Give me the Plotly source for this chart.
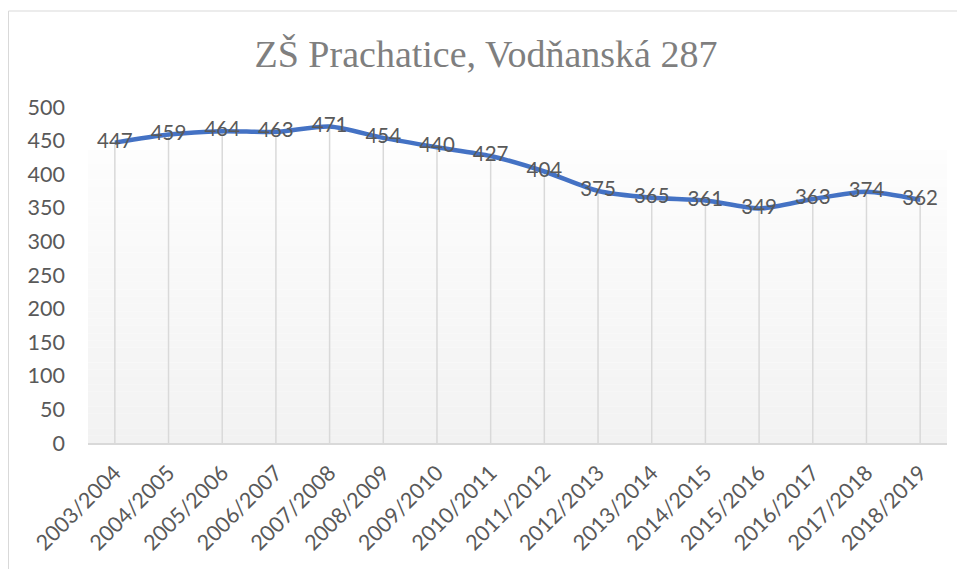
import plotly.graph_objects as go

# Data
skolni_roky = ["2003/2004", "2004/2005", "2005/2006", "2006/2007", "2007/2008",
               "2008/2009", "2009/2010", "2010/2011", "2011/2012", "2012/2013",
               "2013/2014", "2014/2015", "2015/2016", "2016/2017", "2017/2018",
               "2018/2019"]
pocet_zaku = [447, 459, 464, 463, 471, 454, 440, 427, 404, 375, 365, 361, 349, 363, 374, 362]
y_ticks = [0, 50, 100, 150, 200, 250, 300, 350, 400, 450, 500]

# stránka má okraj 8 px, proto je figura o 8 px menší
OFF = 8
W, H = 965 - OFF, 569 - OFF
L, R, T, B = 80, 18, 99, 126
pw, ph = W - L - R, H - T - B


def px_x(x):
    return (x - OFF - L) / pw


def px_y(y):
    return (H - B - (y - OFF)) / ph


fig = go.Figure()

# svislé čáry od bodu k ose
fig.add_trace(go.Scatter(
    x=skolni_roky, y=pocet_zaku, mode="markers",
    marker=dict(size=1, opacity=0),
    error_y=dict(type="data", symmetric=False, array=[0] * len(pocet_zaku),
                 arrayminus=pocet_zaku, color="#d9d9d9", thickness=1.5, width=0),
    hoverinfo="skip", showlegend=False,
))

# hlavní čára
fig.add_trace(go.Scatter(
    x=skolni_roky, y=pocet_zaku, mode="lines+text",
    line=dict(color="#4472C4", width=4.5, shape="spline", smoothing=0.7),
    text=[str(v) for v in pocet_zaku], textposition="middle center",
    textfont=dict(family="Lato, sans-serif", size=20.5, color="#595959"),
    showlegend=False,
))

# gradient pozadí
shapes = []
g_top, g_bot = 150, 443
steps = 40
for i in range(steps):
    y0 = g_top + (g_bot - g_top) * i / steps
    y1 = g_top + (g_bot - g_top) * (i + 1) / steps
    c = round(253 - (253 - 242) * (i + 0.5) / steps)
    shapes.append(dict(type="rect", xref="paper", yref="paper", layer="below",
                       x0=0, x1=1, y0=px_y(y1), y1=px_y(y0),
                       fillcolor=f"rgb({c},{c},{c})", line=dict(width=0)))

# rámeček grafu
shapes.append(dict(type="rect", xref="paper", yref="paper", layer="below",
                   x0=px_x(8.5), x1=px_x(980), y0=px_y(590), y1=px_y(11),
                   fillcolor="rgba(0,0,0,0)", line=dict(color="#d9d9d9", width=1)))

fig.update_layout(
    width=W, height=H,
    margin=dict(l=L, r=R, t=T, b=B),
    paper_bgcolor="white", plot_bgcolor="white",
    title=dict(text="ZŠ Prachatice, Vodňanská 287",
               font=dict(family="Liberation Serif, serif", size=38, color="#7f7f7f"),
               x=(486 - OFF) / W, xanchor="center", y=1 - (54 - OFF) / H, yanchor="middle"),
    shapes=shapes,
    xaxis=dict(type="category", range=[-0.5, len(skolni_roky) - 0.5],
               tickangle=-45, showgrid=False, showline=True, linecolor="#d9d9d9",
               linewidth=1.5, ticks="", zeroline=False, ticklabelstandoff=7,
               tickfont=dict(family="Lato, sans-serif", size=21.5, color="#595959")),
    yaxis=dict(range=[0, 500], tickvals=y_ticks, showgrid=False, zeroline=False,
               showline=False, ticks="", ticklen=0, ticklabelstandoff=22,
               tickfont=dict(family="Lato, sans-serif", size=21.5, color="#595959")),
)

fig.write_html("out.html")
